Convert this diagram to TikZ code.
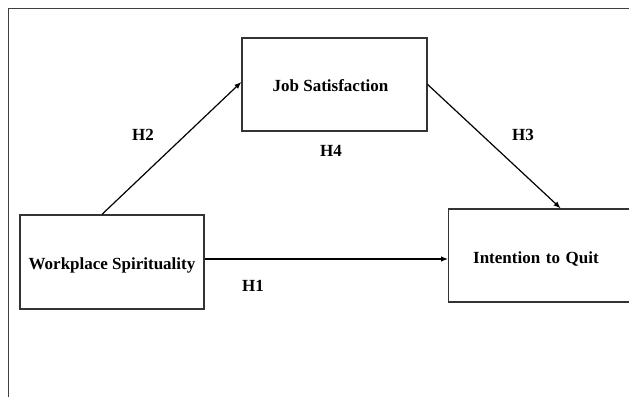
\documentclass[tikz,border=0pt]{standalone}
\usepackage{fontspec}
\setmainfont{Liberation Serif}
\usetikzlibrary{arrows.meta}

\tikzstyle{varbox}=[
    draw,
    line width=1.3pt,
    draw=black!80,
    minimum height=93pt,
    text height=19pt,
    text depth=4pt,
    font=\fontsize{17}{19}\selectfont\bfseries,
  ]
\tikzstyle{hyp}=[
    font=\fontsize{17}{19}\selectfont\bfseries,
  ]
\tikzstyle{path}=[
    -{Latex[length=7pt,width=5.5pt]},
    line width=1.2pt,
  ]

\begin{document}
\begin{tikzpicture}[x=1pt,y=1pt]
      \useasboundingbox (0,0) rectangle (629,397);
      \draw[black!75, line width=1pt] (8.5,0) -- (8.5,388.5) -- (640,388.5);
      \node[varbox, minimum width=185pt] (js) at (334.5,312.5) {Job Satisfaction\kern8pt};
      \node[varbox, minimum width=184pt, minimum height=94pt] (ws) at (112,135) {Workplace Spirituality};
      \node[varbox, minimum width=192pt, anchor=west, inner xsep=24pt,
            text width=143pt, align=left] (iq) at (448,141.5) {Intention to Quit};
      \node[hyp] (h2) at (143,262) {H2};
      \node[hyp] (h4) at (331,246) {H4};
      \node[hyp] (h3) at (523,262) {H3};
      \node[hyp] (h1) at (253,111) {H1};
      \draw[path] ([xshift=-10pt]ws.north) to ([yshift=2.5pt]js.west);
      \draw[path] (js.east) to ([xshift=16pt]iq.north);
      \draw[path] ([yshift=3pt]ws.east) to ([yshift=3pt]ws.east -| iq.west);
    \end{tikzpicture}
\end{document}
